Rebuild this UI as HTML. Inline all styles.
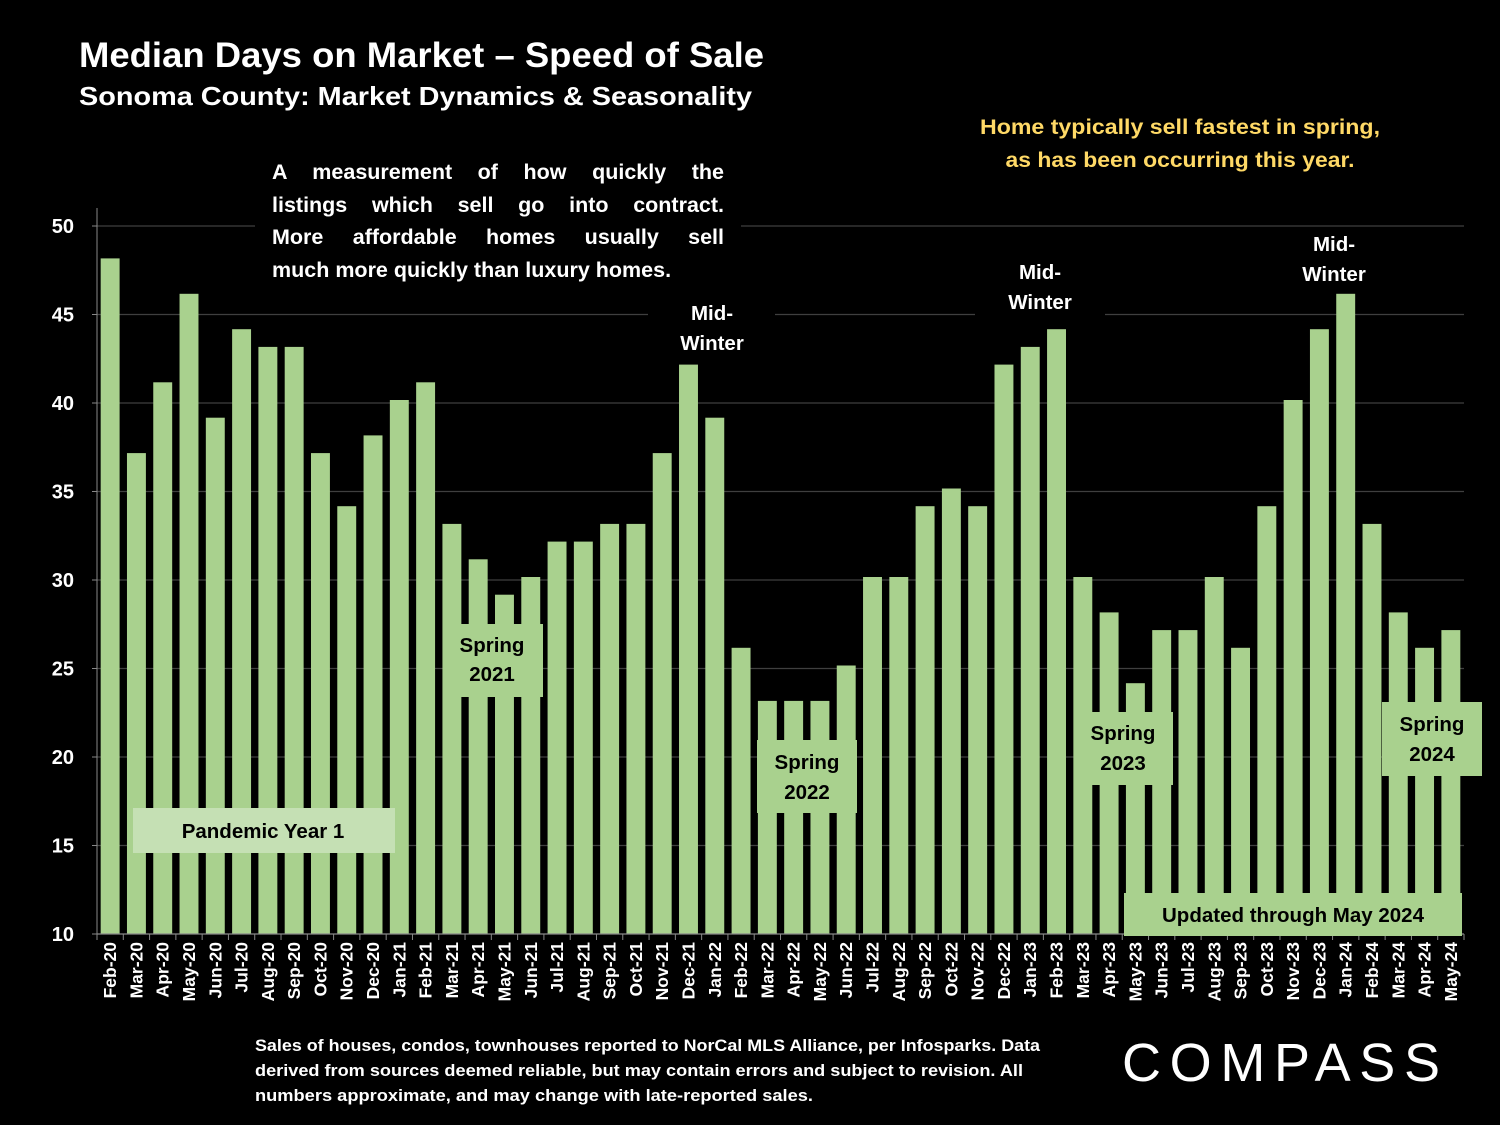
<!DOCTYPE html>
<html><head><meta charset="utf-8">
<style>
html,body{margin:0;padding:0;background:#000;}
svg{display:block;font-family:"Liberation Sans",sans-serif;font-weight:bold;}
#desc{position:absolute;left:255px;top:152px;width:452px;padding:4px 17px 0 17px;height:134px;background:#000;color:#fff;font:bold 21.5px/32.7px "Liberation Sans",sans-serif;box-sizing:content-box;}
#desc .j{text-align:justify;text-align-last:justify;white-space:nowrap;}
</style></head>
<body>
<svg id="chart" width="1500" height="1125" viewBox="0 0 1500 1125">
<rect width="1500" height="1125" fill="#000"/>
<g id="grid"></g>
<g id="bars"></g>
<g id="axes"></g>
<text x="79" y="67" fill="#fff" font-size="35" textLength="685" lengthAdjust="spacingAndGlyphs">Median Days on Market – Speed of Sale</text>
<text x="79" y="105" fill="#fff" font-size="26" textLength="673" lengthAdjust="spacingAndGlyphs">Sonoma County: Market Dynamics &amp; Seasonality</text>
<g fill="#ffd966" font-size="21.5" text-anchor="middle">
<text x="1180" y="134" textLength="400" lengthAdjust="spacingAndGlyphs">Home typically sell fastest in spring,</text>
<text x="1180" y="167" textLength="349" lengthAdjust="spacingAndGlyphs">as has been occurring this year.</text>
</g>
<g id="annots"></g>
<g fill="#fff" font-size="17">
<text x="255" y="1051" textLength="785" lengthAdjust="spacingAndGlyphs">Sales of houses, condos, townhouses reported to NorCal MLS Alliance, per Infosparks. Data</text>
<text x="255" y="1076" textLength="768" lengthAdjust="spacingAndGlyphs">derived from sources deemed reliable, but may contain errors and subject to revision. All</text>
<text x="255" y="1101" textLength="558" lengthAdjust="spacingAndGlyphs">numbers approximate, and may change with late-reported sales.</text>
</g>
<text x="1122" y="1081" fill="#fff" font-size="54" font-weight="normal" textLength="318" lengthAdjust="spacing">COMPASS</text>
</svg>
<div id="desc">
<div class="j">A measurement of how quickly the</div>
<div class="j">listings which sell go into contract.</div>
<div class="j">More affordable homes usually sell</div>
<div>much more quickly than luxury homes.</div>
</div>
<script>
const months = ["Feb-20","Mar-20","Apr-20","May-20","Jun-20","Jul-20","Aug-20","Sep-20","Oct-20","Nov-20","Dec-20","Jan-21","Feb-21","Mar-21","Apr-21","May-21","Jun-21","Jul-21","Aug-21","Sep-21","Oct-21","Nov-21","Dec-21","Jan-22","Feb-22","Mar-22","Apr-22","May-22","Jun-22","Jul-22","Aug-22","Sep-22","Oct-22","Nov-22","Dec-22","Jan-23","Feb-23","Mar-23","Apr-23","May-23","Jun-23","Jul-23","Aug-23","Sep-23","Oct-23","Nov-23","Dec-23","Jan-24","Feb-24","Mar-24","Apr-24","May-24"];
const days = [48,37,41,46,39,44,43,43,37,34,38,40,41,33,31,29,30,32,32,33,33,37,42,39,26,23,23,23,25,30,30,34,35,34,42,43,44,30,28,24,27,27,30,26,34,40,44,46,33,28,26,27];
const yTicks = [10,15,20,25,30,35,40,45,50];

const NS="http://www.w3.org/2000/svg";
const X0=97,X1=1464,Y0=934,Y1=226,YMIN=10,YMAX=50;
const band=(X1-X0)/months.length;
function yS(v){return Y0-(v-YMIN)/(YMAX-YMIN)*(Y0-Y1);}
function xS(i){return X0+i*band;}
function mk(tag,attrs,parent){const e=document.createElementNS(NS,tag);for(const k in attrs)e.setAttribute(k,attrs[k]);parent.appendChild(e);return e;}
const grid=document.getElementById('grid'),bars=document.getElementById('bars'),axes=document.getElementById('axes');
yTicks.forEach(t=>{
  if(t>YMIN){const l=mk('line',{x1:X0,x2:X1,y1:yS(t),y2:yS(t),stroke:'#3f3f3f','stroke-width':1.3},grid);
  
  }
  const tx=mk('text',{x:74,y:yS(t)+7,fill:'#fff','font-size':20,'text-anchor':'end'},axes);
  tx.textContent=t;
  
  
  mk('line',{x1:X0-5,x2:X0,y1:yS(t),y2:yS(t),stroke:'#888'},axes);
});
mk('line',{x1:X0,x2:X0,y1:Y1-18,y2:Y0,stroke:'#888','stroke-width':1},axes);
mk('line',{x1:X0,x2:X1,y1:Y0,y2:Y0,stroke:'#888','stroke-width':1.3},axes);
months.forEach((m,i)=>{
  const bw=band*0.72;
  const r=mk('rect',{x:xS(i)+(band-bw)/2,y:yS(days[i])-3,width:bw,height:Y0-yS(days[i])+3,fill:'#a9d18e'},bars);
  
  
  mk('line',{x1:xS(i),x2:xS(i),y1:Y0,y2:Y0+6,stroke:'#888'},axes);
  const cx=xS(i)+band/2+6;
  const t=mk('text',{x:cx,y:942,fill:'#fff','font-size':17.5,'text-anchor':'end',transform:`rotate(-90 ${cx} 942)`},axes);
  t.textContent=m;
  
  
});
mk('line',{x1:X1,x2:X1,y1:Y0,y2:Y0+6,stroke:'#888'},axes);

const ann=document.getElementById('annots');
function box(name,x,y,w,h,fill,color,lines,cx,ys){
  const g=mk('g',{},ann);
  
  
  mk('rect',{x:x,y:y,width:w,height:h,fill:fill},g);
  lines.forEach((s,k)=>{const t=mk('text',{x:cx,y:ys[k],fill:color,'font-size':20.5,'text-anchor':'middle'},g);t.textContent=s;});
}
box('pandemic-year-1-label',133,808,262,45,'#c5e0b4','#000',['Pandemic Year 1'],263,[838]);
box('spring-2021-label',443,624,100,73,'#a9d18e','#000',['Spring','2021'],492,[652,681]);
box('mid-winter-2021-label',648,298,127,62,'#000','#fff',['Mid-','Winter'],712,[320,350]);
box('spring-2022-label',757,740,100,73,'#a9d18e','#000',['Spring','2022'],807,[769,799]);
box('mid-winter-2022-label',975,256,130,62,'#000','#fff',['Mid-','Winter'],1040,[279,309]);
box('spring-2023-label',1075,712,98,73,'#a9d18e','#000',['Spring','2023'],1123,[740,770]);
box('mid-winter-2023-label',1270,228,130,62,'#000','#fff',['Mid-','Winter'],1334,[251,281]);
box('spring-2024-label',1382,702,100,74,'#a9d18e','#000',['Spring','2024'],1432,[731,761]);
box('updated-through-label',1124,893,338,43,'#a9d18e','#000',['Updated through May 2024'],1293,[922]);
</script>
</body></html>
